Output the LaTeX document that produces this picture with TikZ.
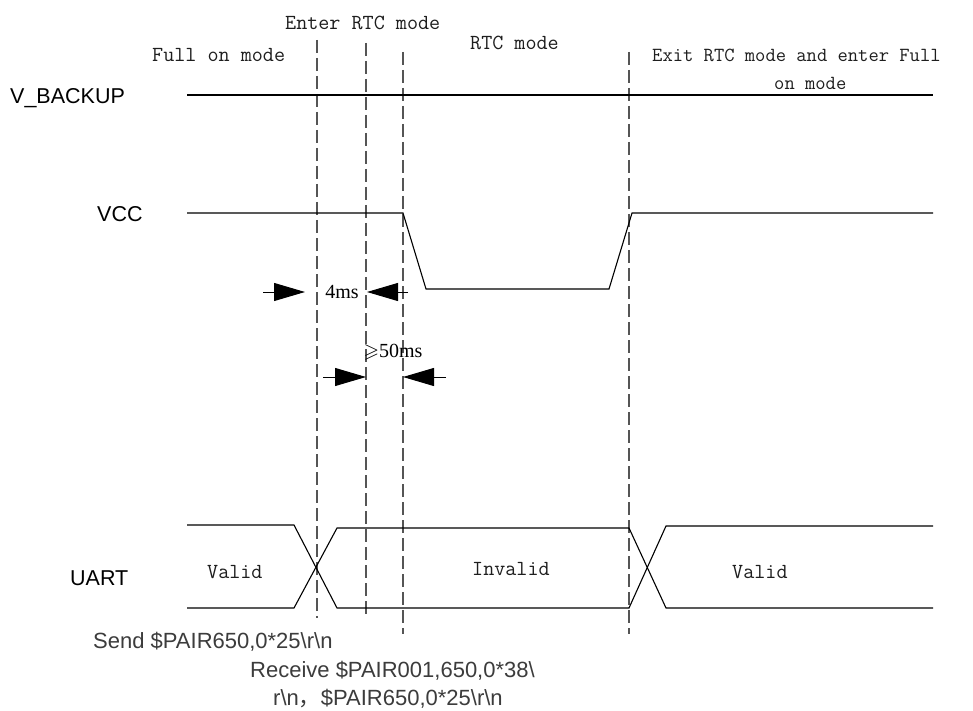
\documentclass[tikz,border=0pt]{standalone}
\usepackage{fontspec}
\usepackage{amssymb}
\usetikzlibrary{arrows.meta}
\newfontfamily\sigfont{Liberation Sans}
\newfontfamily\numfont{Liberation Serif}
\newfontfamily\cjkfont{Noto Sans CJK SC}
\definecolor{dashgray}{HTML}{555555}
\definecolor{notegray}{HTML}{3C3C3C}
\definecolor{textdark}{HTML}{1E1E1E}
\begin{document}
\begin{tikzpicture}[x=1pt,y=-1pt,
  sig/.style={line width=1.1pt, black, line join=miter},
  guide/.style={line width=1.2pt, dashgray, dash pattern=on 13pt off 5pt},
  dimarrow/.style={line width=1pt, -{Triangle[length=31pt,width=18pt]}},
  siglabel/.style={font=\sigfont\fontsize{21.5}{25}\selectfont, inner sep=0pt, anchor=base west},
  modelabel/.style={font=\ttfamily\fontsize{21.5}{25}\selectfont, text=textdark, inner sep=0pt, anchor=base west},
  exitlabel/.style={font=\ttfamily\fontsize{20}{24}\selectfont, text=textdark, inner sep=0pt, anchor=base west},
  dimlabel/.style={font=\numfont\fontsize{20}{23}\selectfont, inner sep=0pt},
  notelabel/.style={font=\sigfont\fontsize{22}{26}\selectfont, text=notegray, inner sep=0pt, anchor=base west}
]
\useasboundingbox[fill=white] (0,0) rectangle (973,711);

% mode labels
\node[modelabel] (full) at (152,62) {Full on mode};
\node[modelabel] (enter) at (285,30) {Enter RTC mode};
\node[modelabel] (rtc) at (470,50) {RTC mode};
\node[exitlabel] (exit1) at (652,62) {Exit RTC mode and enter Full};
\node[exitlabel] (exit2) at (774,90) {on mode};

% signal labels
\node[siglabel] (vb) at (10,104) {V\_BACKUP};
\node[siglabel] (vcc) at (97,222) {VCC};
\node[siglabel] (uart) at (70,585) {UART};

% guide lines
\coordinate (g1t) at (317,40);  \coordinate (g1b) at (317,618);
\coordinate (g2t) at (366,43);  \coordinate (g2b) at (366,618);
\coordinate (g3t) at (403,52);  \coordinate (g3b) at (403,634);
\coordinate (g4t) at (629,52);  \coordinate (g4b) at (629,634);
\draw[guide] (g1t) -- (g1b);
\draw[guide] (g2t) -- (g2b);
\draw[guide] (g3t) -- (g3b);
\draw[guide] (g4t) -- (g4b);

% V_BACKUP
\coordinate (vbs) at (187,95); \coordinate (vbe) at (933,95);
\draw[sig] (vbs) -- (vbe);

% VCC
\coordinate (vccs) at (187,213);
\coordinate (vccf1) at (403,213);
\coordinate (vccf2) at (426,289);
\coordinate (vccr1) at (609,289);
\coordinate (vccr2) at (632,213);
\coordinate (vcce) at (933,213);
\draw[sig] (vccs) -- (vccf1) -- (vccf2) -- (vccr1) -- (vccr2) -- (vcce);

% UART
\coordinate (ua1) at (187,525); \coordinate (ua2) at (294,525); \coordinate (ua3) at (337,608);
\coordinate (ub1) at (187,608); \coordinate (ub2) at (294,608); \coordinate (ub3) at (337,528);
\coordinate (uc1) at (629,528); \coordinate (uc2) at (666,608); \coordinate (uc3) at (933,608);
\coordinate (ud1) at (629,608); \coordinate (ud2) at (666,526); \coordinate (ud3) at (933,526);
\draw[sig] (ua1) -- (ua2) -- (ua3) -- (ud1) -- (ud2) -- (ud3);
\draw[sig] (ub1) -- (ub2) -- (ub3) -- (uc1) -- (uc2) -- (uc3);

\node[modelabel] (valid1) at (207,578) {Valid};
\node[modelabel] (invalid) at (472,575) {Invalid};
\node[modelabel] (valid2) at (732,578) {Valid};

% 4ms dimension
\coordinate (d1a) at (263,292); \coordinate (d1b) at (305,292);
\coordinate (d1c) at (408,292); \coordinate (d1d) at (367,292);
\draw[dimarrow] (d1a) -- (d1b);
\draw[dimarrow] (d1c) -- (d1d);
\node[dimlabel] (t4ms) at (342,292) {4ms};

% >=50ms dimension
\coordinate (d2a) at (323,377); \coordinate (d2b) at (366,377);
\coordinate (d2c) at (446,377); \coordinate (d2d) at (403,377);
\draw[dimarrow] (d2a) -- (d2b);
\draw[dimarrow] (d2c) -- (d2d);
\node[dimlabel] (t50ms) at (393,352) {$\geqslant$50ms};

% notes
\node[notelabel] (send) at (93,648) {Send \$PAIR650,0*25\textbackslash r\textbackslash n};
\node[notelabel] (recv1) at (250,677) {Receive \$PAIR001,650,0*38\textbackslash};
\node[notelabel] (recv2) at (273,705) {r\textbackslash n{\cjkfont ，}\$PAIR650,0*25\textbackslash r\textbackslash n};
\end{tikzpicture}
\end{document}
